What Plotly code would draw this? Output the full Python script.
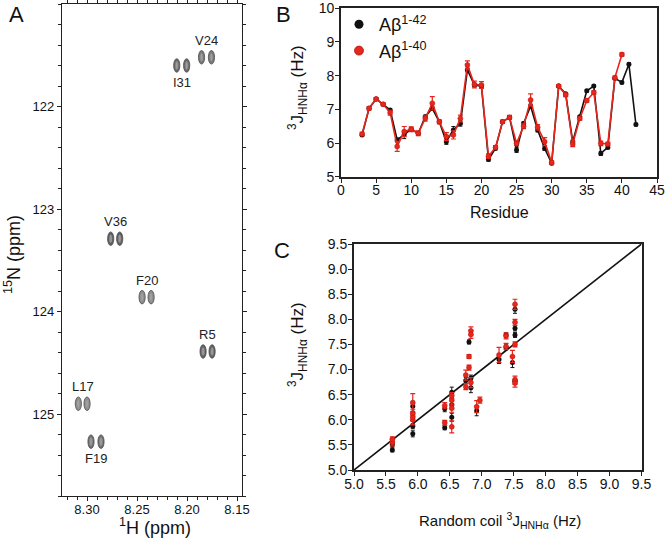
import plotly.graph_objects as go

W, H = 666, 545

# ---------------- Panel A data: HSQC doublets ----------------
peak_names = ["V24", "I31", "V36", "F20", "R5", "L17", "F19"]
peak_h = [8.1805, 8.2053, 8.2718, 8.2404, 8.1794, 8.3043, 8.2910]     # 1H centre (ppm)
peak_n = [121.52, 121.60, 123.29, 123.86, 124.39, 124.90, 125.27]     # 15N (ppm)
peak_split = [0.0099, 0.0099, 0.0090, 0.0090, 0.0090, 0.0087, 0.0100]  # doublet splitting (ppm)
peak_shade = ["#787878", "#6a6a6a", "#5e5e5e", "#8e8e8e", "#626262", "#909090", "#727272"]
label_side = [1, -1, 1, 1, 1, 1, -1]   # 1 = label above, -1 = below

# ---------------- Panel B data: 3J(HNHa) per residue ----------------
res_42 = list(range(3, 43))
j_42 = [6.24, 7.03, 7.31, 7.15, 6.98, 6.09, 6.25, 6.41, 6.29, 6.78,
        7.03, 6.63, 6.04, 6.39, 6.58, 8.17, 7.72, 7.69, 5.51, 5.84,
        6.63, 6.76, 5.79, 6.58, 7.10, 6.39, 5.84, 5.40, 7.69, 7.46,
        6.04, 6.78, 7.55, 7.69, 5.69, 5.87, 7.92, 7.80, 8.34, 6.55]
err_42 = [0.04, 0.04, 0.04, 0.04, 0.04, 0.06, 0.12, 0.05, 0.05, 0.05,
          0.06, 0.05, 0.08, 0.10, 0.08, 0.06, 0.05, 0.05, 0.05, 0.04,
          0.04, 0.05, 0.07, 0.05, 0.05, 0.06, 0.06, 0.04, 0.04, 0.04,
          0.05, 0.04, 0.04, 0.04, 0.06, 0.04, 0.04, 0.04, 0.04, 0.04]
res_40 = list(range(3, 41))
j_40 = [6.27, 7.03, 7.31, 7.15, 6.90, 5.90, 6.34, 6.41, 6.29, 6.73,
        7.18, 6.63, 6.19, 6.24, 6.73, 8.32, 7.74, 7.72, 5.61, 5.87,
        6.63, 6.76, 5.99, 6.50, 7.28, 6.47, 6.04, 5.42, 7.69, 7.43,
        5.97, 6.73, 7.26, 7.50, 5.99, 5.97, 7.94, 8.63]
err_40 = [0.05, 0.05, 0.04, 0.04, 0.07, 0.15, 0.15, 0.07, 0.07, 0.08,
          0.20, 0.06, 0.12, 0.12, 0.10, 0.12, 0.10, 0.10, 0.07, 0.05,
          0.05, 0.06, 0.07, 0.07, 0.18, 0.08, 0.12, 0.05, 0.04, 0.05,
          0.08, 0.05, 0.05, 0.05, 0.07, 0.05, 0.05, 0.05]

# ---------------- Panel C data: observed vs random coil ----------------
rc_42 = [5.60, 5.60, 5.92, 5.92, 5.92, 6.42, 6.42, 6.53, 6.53, 6.53, 6.75, 6.80,
         6.83, 6.83, 6.92, 7.27, 7.38, 7.38, 7.48, 7.52, 7.52, 7.52, 7.52, 7.52]
obs_42 = [5.40, 5.51, 5.72, 5.87, 6.27, 5.84, 6.22, 6.05, 6.30, 6.55, 6.78, 7.55,
          6.64, 6.83, 6.18, 7.20, 7.69, 7.44, 7.14, 8.20, 7.82, 7.69, 6.78, 6.76]
obs_err_42 = [0.04, 0.05, 0.06, 0.05, 0.10, 0.04, 0.06, 0.08, 0.08, 0.10, 0.06, 0.04,
              0.10, 0.06, 0.10, 0.08, 0.04, 0.05, 0.10, 0.08, 0.05, 0.05, 0.05, 0.05]
rc_40 = [5.60, 5.60, 5.92, 5.92, 5.92, 5.92, 6.42, 6.42, 6.53, 6.53, 6.53, 6.53, 6.75, 6.75, 6.80,
         6.80, 6.83, 6.83, 6.83, 6.92, 6.97, 7.27, 7.38, 7.38, 7.48, 7.52, 7.52, 7.52, 7.52, 7.52]
obs_40 = [5.55, 5.61, 6.00, 6.06, 6.13, 6.34, 5.94, 6.28, 5.86, 6.23, 6.39, 6.48, 6.66, 6.89, 7.04,
          7.26, 7.77, 7.70, 6.74, 6.26, 6.39, 7.29, 7.67, 7.46, 7.26, 8.30, 7.94, 7.50, 6.79, 6.73]
obs_err_40 = [0.07, 0.05, 0.10, 0.08, 0.08, 0.18, 0.05, 0.06, 0.12, 0.08, 0.10, 0.06, 0.06, 0.10, 0.05,
              0.04, 0.08, 0.08, 0.10, 0.12, 0.06, 0.15, 0.06, 0.06, 0.12, 0.10, 0.06, 0.05, 0.08, 0.08]
diag = [5.0, 9.5]

BLACK = "#111111"
RED = "#e8261c"
FONT = "Liberation Sans, Arial, sans-serif"
AX = "#222222"


def px(x):
    return x / W


def py(y):
    return 1 - y / H


fig = go.Figure()

# Panel B traces
fig.add_trace(go.Scatter(x=res_42, y=j_42, mode="lines+markers", xaxis="x2", yaxis="y2",
                         line=dict(color=BLACK, width=1.6), marker=dict(color=BLACK, size=5),
                         error_y=dict(type="data", array=err_42, color=BLACK, thickness=1, width=2),
                         showlegend=False))
fig.add_trace(go.Scatter(x=res_40, y=j_40, mode="lines+markers", xaxis="x2", yaxis="y2",
                         line=dict(color=RED, width=1.6),
                         marker=dict(color=RED, size=5, line=dict(color="#b8160e", width=0.5)),
                         error_y=dict(type="data", array=err_40, color=RED, thickness=1.2, width=2.5),
                         showlegend=False))
# legend entries
fig.add_trace(go.Scatter(x=[None], y=[None], mode="markers", xaxis="x2", yaxis="y2",
                         marker=dict(color=BLACK, size=9), name="Aβ<sup>1-42</sup>"))
fig.add_trace(go.Scatter(x=[None], y=[None], mode="markers", xaxis="x2", yaxis="y2",
                         marker=dict(color=RED, size=9, line=dict(color="#a8140c", width=0.8)),
                         name="Aβ<sup>1-40</sup>"))

# Panel C traces
fig.add_trace(go.Scatter(x=diag, y=diag, mode="lines", xaxis="x3", yaxis="y3",
                         line=dict(color=BLACK, width=1.6), showlegend=False, hoverinfo="skip"))
fig.add_trace(go.Scatter(x=rc_42, y=obs_42, mode="markers", xaxis="x3", yaxis="y3",
                         marker=dict(color=BLACK, size=5),
                         error_y=dict(type="data", array=obs_err_42, color=BLACK, thickness=1, width=2),
                         showlegend=False))
fig.add_trace(go.Scatter(x=rc_40, y=obs_40, mode="markers", xaxis="x3", yaxis="y3",
                         marker=dict(color=RED, size=5, line=dict(color="#b8160e", width=0.5)),
                         error_y=dict(type="data", array=obs_err_40, color=RED, thickness=1.2, width=2.5),
                         showlegend=False))

# Panel A: invisible anchor trace for the axes
fig.add_trace(go.Scatter(x=peak_h, y=peak_n, mode="markers", xaxis="x", yaxis="y",
                         marker=dict(size=1, opacity=0), showlegend=False, hoverinfo="skip"))

# Panel A peaks as elliptical doublets
shapes = []
hw, hh = 0.0031, 0.066
for h, n, s, c in zip(peak_h, peak_n, peak_split, peak_shade):
    for comp in (-0.5, 0.5):
        cx = h + comp * s
        shapes.append(dict(type="circle", xref="x", yref="y",
                           x0=cx - hw, x1=cx + hw, y0=n - hh, y1=n + hh,
                           fillcolor=c, line=dict(color="#4a4a4a", width=0.8), layer="above"))
        shapes.append(dict(type="circle", xref="x", yref="y",
                           x0=cx - hw * 0.45, x1=cx + hw * 0.45, y0=n - hh * 0.6, y1=n + hh * 0.6,
                           fillcolor="#a8a8a8", line=dict(color="#8a8a8a", width=0.5), layer="above",
                           opacity=0.8))

annotations = []
for name, h, n, side in zip(peak_names, peak_h, peak_n, label_side):
    annotations.append(dict(x=h, y=n, xref="x", yref="y", text=name, showarrow=False,
                            xanchor="center", yanchor="middle",
                            yshift=17 * side, font=dict(family=FONT, size=13, color="#222")))


def paper_text(text, x, y, size, angle=0):
    return dict(x=px(x), y=py(y), xref="paper", yref="paper", text=text, showarrow=False,
                xanchor="center", yanchor="middle", textangle=angle,
                font=dict(family=FONT, size=size, color="#111"))


# Panel letters
for letter, x, y in (("A", 16, 14), ("B", 283, 14), ("C", 282, 250)):
    annotations.append(paper_text(letter, x, y, 22))

# Axis titles
annotations += [
    paper_text("<sup>1</sup>H (ppm)", 155, 526, 18),
    paper_text("<sup>15</sup>N (ppm)", 12, 255, 18, -90),
    paper_text("Residue", 500, 213, 16),
    paper_text("<sup>3</sup>J<sub>HNHα</sub> (Hz)", 297, 88, 17, -90),
    paper_text("Random coil <sup>3</sup>J<sub>HNHα</sub> (Hz)", 500, 520, 15),
    paper_text("<sup>3</sup>J<sub>HNHα</sub> (Hz)", 297, 345, 17, -90),
]

tickA = dict(family=FONT, size=13, color="#111")
tickBC = dict(family=FONT, size=14, color="#111")
common = dict(showgrid=False, zeroline=False, showline=True, linecolor=AX, ticks="outside",
              tickcolor=AX, automargin=False)

fig.update_layout(
    width=W, height=H, margin=dict(l=0, r=0, t=0, b=0),
    paper_bgcolor="white", plot_bgcolor="white",
    shapes=shapes, annotations=annotations,
    showlegend=True,
    legend=dict(x=px(339), y=py(6), xanchor="left", yanchor="top", bgcolor="rgba(0,0,0,0)",
                font=dict(family=FONT, size=18, color="#111"), tracegroupgap=0, itemwidth=30),
    xaxis=dict(domain=[px(62), px(242)], anchor="y", range=[8.325, 8.145],
               tickvals=[8.30, 8.25, 8.20, 8.15], tickformat=".2f", ticklen=4, linewidth=1.2,
               mirror="ticks", tickfont=tickA, ticklabelstandoff=-3,
               minor=dict(dtick=0.01, ticklen=2.5, ticks="outside", tickcolor=AX), **common),
    yaxis=dict(domain=[py(496), py(4)], anchor="x", range=[125.8, 121.0],
               tickvals=[122, 123, 124, 125], ticklen=4, linewidth=1.2, mirror="ticks",
               tickfont=tickA,
               minor=dict(dtick=0.2, ticklen=2.5, ticks="outside", tickcolor=AX), **common),
    xaxis2=dict(domain=[px(341), px(657)], anchor="y2", range=[0, 45], dtick=5, tick0=0,
                ticklen=4, linewidth=1.8, mirror=True, tickfont=tickBC, ticklabelstandoff=-4,
                **common),
    yaxis2=dict(domain=[py(176.7), py(8.3)], anchor="x2", range=[5, 10], dtick=1, tick0=5,
                ticklen=4, linewidth=1.8, mirror=True, tickfont=tickBC, ticklabelstandoff=-2,
                **common),
    xaxis3=dict(domain=[px(354), px(641.5)], anchor="y3", range=[5, 9.5], dtick=0.5, tick0=5,
                tickformat=".1f", ticklen=4, linewidth=1.8, mirror=True, tickfont=tickBC,
                ticklabelstandoff=-4, **common),
    yaxis3=dict(domain=[py(470), py(244)], anchor="x3", range=[5, 9.5], dtick=0.5, tick0=5,
                tickformat=".1f", ticklen=4, linewidth=1.8, mirror=True, tickfont=tickBC,
                ticklabelstandoff=-2, **common),
)

fig.write_html("out.html", config={"displayModeBar": False},
               post_script="document.body.style.margin='0';")
